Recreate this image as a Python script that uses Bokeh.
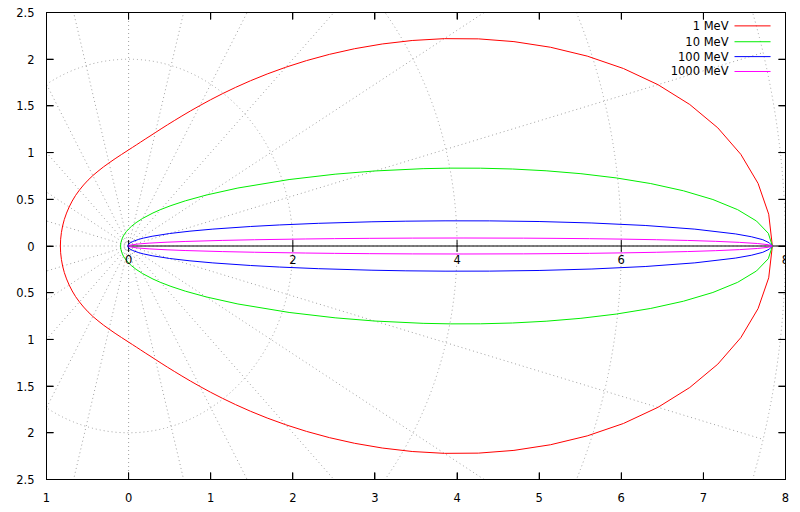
import numpy as np
from bokeh.plotting import figure
from bokeh.models import (Range1d, LinearAxis, SingleIntervalTicker,
                          CustomJSTickFormatter, Label, ColumnDataSource)
from bokeh.embed import file_html
from bokeh.resources import INLINE

# ---- data: scattering angle (deg) and polar radius, upper half (curves are symmetric)
theta_1MeV = [0, 2.5, 5, 7.5, 10, 12.5, 15, 17.5, 20, 22.5, 25, 27.5, 30, 32.5, 35, 37.5,
              40, 42.5, 45, 47.5, 50, 52.5, 55, 57.5, 60, 62.5, 65, 67.5, 70, 72.5, 75,
              77.5, 80, 82.5, 85, 87.5, 90, 95, 100, 105, 110, 115, 120, 125, 130, 135,
              140, 145, 150, 155, 160, 165, 170, 175, 180]
r_1MeV = [7.84, 7.803, 7.695, 7.520, 7.286, 7.000, 6.674, 6.319, 5.944, 5.561, 5.178,
          4.803, 4.440, 4.095, 3.771, 3.470, 3.192, 2.938, 2.707, 2.498, 2.310, 2.141,
          1.990, 1.856, 1.736, 1.630, 1.536, 1.453, 1.380, 1.315, 1.257, 1.206, 1.162,
          1.122, 1.087, 1.056, 1.029, 0.984, 0.949, 0.921, 0.900, 0.883, 0.871, 0.861,
          0.853, 0.847, 0.843, 0.839, 0.836, 0.834, 0.833, 0.832, 0.831, 0.831, 0.831]

theta_10MeV = [0, 1, 2, 3, 4, 5, 6, 7, 8, 9, 10, 11, 12, 13, 15, 17, 20, 25, 30, 35,
               40, 45, 50, 60, 70, 80, 90, 100, 110, 120, 140, 160, 180]
r_10MeV = [7.84, 7.792, 7.652, 7.428, 7.133, 6.783, 6.394, 5.982, 5.563, 5.148, 4.747,
           4.366, 4.010, 3.681, 3.104, 2.630, 2.080, 1.469, 1.090, 0.843, 0.673, 0.552,
           0.462, 0.341, 0.266, 0.216, 0.182, 0.157, 0.139, 0.126, 0.109, 0.100, 0.098]

theta_100MeV = [0, 0.25, 0.5, 0.75, 1, 1.5, 2, 2.5, 3, 3.5, 4, 4.5, 5, 6, 7, 8, 10, 12,
                15, 20, 25, 30, 45, 60, 90, 120, 150, 180]
r_100MeV = [7.84, 7.803, 7.724, 7.584, 7.395, 6.898, 6.295, 5.648, 5.006, 4.405, 3.863,
            3.387, 2.975, 2.323, 1.849, 1.501, 1.042, 0.764, 0.516, 0.305, 0.201, 0.143,
            0.067, 0.039, 0.020, 0.013, 0.011, 0.010]

theta_1000MeV = [0, 0.1, 0.2, 0.3, 0.4, 0.5, 0.6, 0.7, 0.8, 0.9, 1.0, 1.2, 1.4, 1.6, 1.8,
                 2.0, 2.5, 3, 4, 5, 7, 10, 15, 20, 30, 60, 90, 180]
r_1000MeV = [7.84, 7.794, 7.657, 7.438, 7.150, 6.808, 6.427, 6.024, 5.613, 5.206, 4.812,
             4.085, 3.460, 2.938, 2.509, 2.159, 1.535, 1.142, 0.699, 0.470, 0.252, 0.128,
             0.058, 0.033, 0.015, 0.004, 0.002, 0.001]

series_labels = ["1 MeV", "10 MeV", "100 MeV", "1000 MeV"]
series = [(theta_1MeV, r_1MeV), (theta_10MeV, r_10MeV),
          (theta_100MeV, r_100MeV), (theta_1000MeV, r_1000MeV)]
colors = ["#ff0000", "#00ee00", "#0000ff", "#ff00ff"]

r_ticks = [0, 2, 4, 6, 8]          # radial axis ticks / grid circles
grid_angle_step = 15               # degrees between radial grid lines

X0, X1, XSTEP = -1, 8, 1
Y0, Y1, YSTEP = -2.5, 2.5, 0.5

FONT = "DejaVu Sans"
FS = "11.5px"
GRID_COLOR = "#a0a0a0"

LEFT, TOP, RIGHT, BOTTOM = 46, 12, 10, 21
W, H = 795, 504
FRAME_W, FRAME_H = W - LEFT - RIGHT, H - TOP - BOTTOM
TICK = 7
p = figure(width=W, height=H, x_range=Range1d(X0, X1), y_range=Range1d(Y0, Y1),
           output_backend="svg", toolbar_location=None,
           min_border_left=LEFT, min_border_right=RIGHT, min_border_top=TOP,
           min_border_bottom=BOTTOM)
p.xgrid.visible = False
p.ygrid.visible = False
p.outline_line_color = "black"
p.background_fill_color = "white"
p.border_fill_color = "white"

absfmt = CustomJSTickFormatter(code="return Math.abs(tick).toString();")
for ax, step in ((p.xaxis[0], XSTEP), (p.yaxis[0], YSTEP)):
    ax.ticker = SingleIntervalTicker(interval=step)
    ax.formatter = absfmt
    ax.major_tick_in = TICK
    ax.major_tick_out = 0
    ax.minor_tick_line_color = None
    ax.axis_line_color = "black"
    ax.major_tick_line_color = "black"
    ax.major_label_text_font = FONT
    ax.major_label_text_font_size = FS
    ax.major_label_text_color = "black"
p.xaxis[0].major_label_standoff = 9
p.yaxis[0].major_label_standoff = 8

# mirrored inward ticks on top and right borders (labels not drawn)
for loc, step in (("above", XSTEP), ("right", YSTEP)):
    ax = LinearAxis(ticker=SingleIntervalTicker(interval=step), major_tick_in=TICK,
                    major_tick_out=0, minor_tick_line_color=None,
                    major_label_text_color=None, major_label_text_font_size="1px",
                    major_label_standoff=0, axis_line_color="black",
                    major_tick_line_color="black")
    p.add_layout(ax, loc)

# the same ticks as short segments inside the frame
xs = (X1 - X0) / FRAME_W
ys = (Y1 - Y0) / FRAME_H
xt = [float(v) for v in np.arange(X0, X1 + XSTEP / 2, XSTEP)]
yt = [float(v) for v in np.arange(Y0, Y1 + YSTEP / 2, YSTEP)]
tx0, ty0, tx1, ty1 = [], [], [], []
for yedge, sgn in ((Y1, -1), (Y0, 1)):
    tx0 += xt
    tx1 += xt
    ty0 += [yedge] * len(xt)
    ty1 += [yedge + sgn * TICK * ys] * len(xt)
for xedge, sgn in ((X1, -1), (X0, 1)):
    tx0 += [xedge] * len(yt)
    tx1 += [xedge + sgn * TICK * xs] * len(yt)
    ty0 += yt
    ty1 += yt
tick_src = ColumnDataSource(dict(x0=tx0, y0=ty0, x1=tx1, y1=ty1))
p.segment(x0="x0", y0="y0", x1="x1", y1="y1", source=tick_src,
          line_color="black", line_width=1)

# polar grid: circles and radial lines
rmax = max(r_ticks)
circ = [r for r in r_ticks if r > 0]
p.ellipse(x=[0] * len(circ), y=[0] * len(circ), width=[2 * r for r in circ],
          height=[2 * r for r in circ], fill_color=None, line_color=GRID_COLOR,
          line_dash="1 3", line_width=1)
ang = np.deg2rad(np.arange(0, 360, grid_angle_step))
p.segment(x0=np.zeros(len(ang)), y0=np.zeros(len(ang)), x1=rmax * np.cos(ang),
          y1=rmax * np.sin(ang), line_color=GRID_COLOR, line_dash="1 3", line_width=1)

# radial axis
p.segment(x0=[0], y0=[0], x1=[rmax], y1=[0], line_color="black", line_width=1)
p.segment(x0=r_ticks, y0=[-6 * ys] * len(r_ticks), x1=r_ticks,
          y1=[6 * ys] * len(r_ticks), line_color="black", line_width=1)
for t in r_ticks:
    p.add_layout(Label(x=t, y=0, text=str(t), y_offset=-9, text_align="center",
                       text_baseline="top", text_font=FONT, text_font_size=FS,
                       text_color="black"))

# curves
for (th, rr), c in zip(series, colors):
    th = np.asarray(th, float)
    rr = np.asarray(rr, float)
    t_full = np.concatenate([th, -th[::-1][1:]])
    r_full = np.concatenate([rr, rr[::-1][1:]])
    tr = np.deg2rad(t_full)
    p.line(r_full * np.cos(tr), r_full * np.sin(tr), line_color=c, line_width=1)

# key (gnuplot style: text right-aligned, sample to its right)
key_text_x = 7.306
key_x0, key_x1 = 7.379, 7.818
key_rows_px = [25.5, 41.5, 56.5, 71.5]      # pixel rows of the key entries
for lab, c, py in zip(series_labels, colors, key_rows_px):
    yy = Y1 - (py - TOP) * ys
    p.add_layout(Label(x=key_text_x, y=yy, text=lab, text_align="right",
                       text_baseline="middle", text_font=FONT, text_font_size=FS,
                       text_color="black"))
    p.line([key_x0, key_x1], [yy, yy], line_color=c, line_width=1)

open("out.html", "w").write(file_html(p, INLINE))
